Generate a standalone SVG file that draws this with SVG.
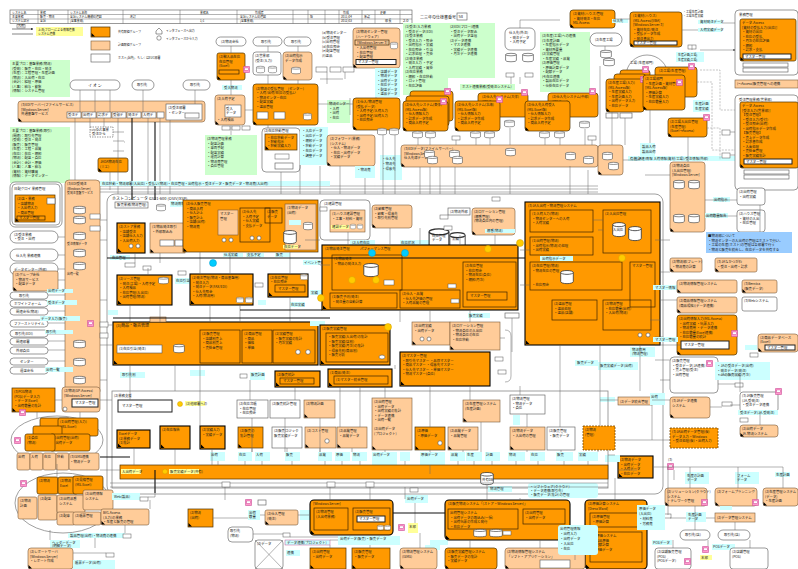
<svg xmlns="http://www.w3.org/2000/svg" width="798" height="569" viewBox="0 0 798 569">
<defs>
<style>
text{font-family:"Noto Sans CJK JP","Noto Sans",sans-serif;font-size:3.4px;fill:#1a1a1a}
.t5{font-size:4.8px}.t4{font-size:4px}.t3{font-size:2.9px}
.o{fill:#ff9900;stroke:#4a3000;stroke-width:.7}
.ok{fill:#ff9900;stroke:#000;stroke-width:1.1}
.od{fill:#ff9900;stroke:#7a4a00;stroke-width:.8;stroke-dasharray:2 1}
.lo{fill:#ffcc99;stroke:#7a5a3a;stroke-width:.6}
.w{fill:#fff;stroke:#555;stroke-width:.6}
.wk{fill:#fff;stroke:#222;stroke-width:1}
.in{fill:none;stroke:#3a2400;stroke-width:.7}
.fr{fill:none;stroke:#888;stroke-width:.8}
.g{fill:#ccffcc}
.c{fill:#ccffff}
.y{fill:#ffff99}
.bl{fill:#99ccff}
.tg{fill:#fff;stroke:#555;stroke-width:.5}
.ln{fill:none;stroke:#666;stroke-width:.5}
.lg{fill:none;stroke:#aaa;stroke-width:.5}
.lk{fill:none;stroke:#111;stroke-width:1.1}
.ld{fill:none;stroke:#888;stroke-width:.5;stroke-dasharray:2 1.2}
.yc{fill:#ffcc00;stroke:#d49a00;stroke-width:.5}
.cc{fill:#00ccff;stroke:#0099cc;stroke-width:.5}
</style>
<symbol id="db" viewBox="0 0 10 8" preserveAspectRatio="none" overflow="visible"><path d="M.5 1.4V6.6A4.5 1.2 0 0 0 9.5 6.6V1.4" fill="#fff" stroke="#333" stroke-width=".5"/><ellipse cx="5" cy="1.4" rx="4.5" ry="1.1" fill="#fff" stroke="#333" stroke-width=".5"/></symbol>
<symbol id="pc" viewBox="0 0 7 7"><rect x=".3" y=".3" width="6.4" height="6.4" rx="1" fill="#ff99cc" stroke="#b03080" stroke-width=".5"/><rect x="1.8" y="2" width="3.4" height="2.2" fill="#fff" stroke="#b03080" stroke-width=".3"/></symbol>
<path id="tri" d="M0 0V-3.5L3.5 0Z" fill="#000"/>
<marker id="ar" viewBox="0 0 6 6" refX="5" refY="3" markerWidth="4" markerHeight="4" orient="auto"><path d="M0 0L6 3L0 6Z" fill="#333"/></marker>
</defs>
<rect width="798" height="569" fill="#fff"/>

<!-- title block -->
<g id="header">
<rect x="10" y="10" width="402" height="13.5" class="w"/>
<path class="ln" d="M10 14.5H412M10 19H412M38 10V23.5M68 10V23.5M123 10V23.5M180 10V23.5M237 10V23.5M293 10V23.5M308 10V23.5M325 10V23.5M339 10V23.5M362 10V23.5M375 10V23.5M400 10V23.5"/>
<text x="12" y="13.5" class="t3">システム名</text><text x="40" y="13.5" class="t3">業務</text><text x="70" y="13.5" class="t3">システム名称</text><text x="200" y="13.5" class="t3">業務名</text><text x="255" y="13.5" class="t3">作成者</text><text x="343" y="13.5" class="t3">作成</text><text x="380" y="13.5" class="t3">更新</text>
<text x="12" y="18" class="t3">主要業務</text><text x="40" y="18" class="t3">販売・物流</text><text x="70" y="18" class="t3">全社システム機能関連図</text><text x="130" y="18" class="t3">改訂</text><text x="240" y="18" class="t3">全社システム関連図</text><text x="310" y="18" class="t3">版</text><text x="341" y="18" class="t3">2011/04</text><text x="364" y="18" class="t3">承認</text>
<text x="12" y="22.3" class="t3">システム区分</text><text x="40" y="22.3" class="t3">全社</text><text x="70" y="22.3" class="t3">(全事業部)</text><text x="200" y="22.3" class="t3">1/1</text><text x="240" y="22.3" class="t3">(全事業部)</text><text x="341" y="22.3" class="t3">2012/03</text><text x="385" y="22.3" class="t3">部 長</text><text x="403" y="22.3" class="t4">2.0</text>
</g>
<g id="docno">
<text x="420" y="19" class="t4">二三年の仕様書番号</text>
<rect x="457" y="13" width="10" height="7" class="w"/><text x="458.5" y="18.4" class="t4">58</text>
</g>

<!-- legend -->
<g id="legend">
<line x1="12" y1="29" x2="33" y2="29" stroke="#333" stroke-width=".6" marker-end="url(#ar)"/>
<rect x="17" y="24.5" width="8" height="3.5" class="tg"/><text x="18" y="27.3" class="t3">凡例</text>
<line x1="12" y1="34" x2="33" y2="34" stroke="#999" stroke-width="1.2"/>
<rect x="36" y="27" width="47" height="9" class="y"/>
<text x="38" y="30.6" class="t3">上流(フロー)による情報連携</text><text x="38" y="34.6" class="t3">システム連携</text>
<rect x="91" y="27" width="19" height="10" class="o"/><use href="#tri" x="91.5" y="36.5"/>
<text x="118" y="33" class="t3">共有取組グループ</text>
<rect x="91" y="41" width="19" height="9" class="lo"/>
<text x="118" y="46" class="t3">計画取組グループ</text>
<rect x="91" y="54" width="19" height="8" class="w"/>
<text x="118" y="59" class="t3">ホスト(社内)、もしくはEUC部署</text>
<path d="M156 31l3-3 3 3v3h-6z" class="w"/><text x="166" y="32" class="t3">インタフェースへ出力</text>
<circle cx="159" cy="38" r="2.2" class="w"/><text x="166" y="39.5" class="t3">インタフェースから入力</text>
</g>

<!-- notes -->
<g id="note1"><rect x="10" y="60" width="60" height="37" class="g"/>
<text x="12" y="65">主要プロ：基盤業務(物流)</text><text x="12" y="69.5">(受発)：販売・在庫・発注</text><text x="12" y="74">(生産)：工程管理・生産計画</text><text x="12" y="78.5">(物流)：入出荷・在庫</text><text x="12" y="83">(会計)：経理・原価</text><text x="12" y="87.5">(人事)：給与・勤怠</text><text x="12" y="92">(情報)：システム管理</text></g>
<g id="note2"><rect x="10" y="127" width="60" height="56" class="g"/>
<text x="12" y="132">主要プロ：基盤業務(取引)</text><text x="12" y="136.5">(関連)：取引先管理</text><text x="12" y="141">(受発)：受注・発注</text><text x="12" y="145.5">(販売)：販売管理</text><text x="12" y="150">(生産)：工程・品質</text><text x="12" y="154.5">(在庫)：在庫・棚卸</text><text x="12" y="159">(物流)：配送・倉庫</text><text x="12" y="163.5">(会計)：会計・原価</text><text x="12" y="168">(人事)：人事・給与</text><text x="12" y="172.5">(資材)：資材購買</text><text x="12" y="177">(情報)：データセンター</text></g>
<g id="note3"><path class="g" d="M403 23H495V78H448V95H403Z"/>
<text x="405" y="28">(1)受注/入力業務</text><text x="405" y="32.5">・受注データ(EDI)</text><text x="405" y="37">(1)受注業務</text><text x="405" y="41.5">・受注入力 ・照会</text><text x="405" y="46">・出荷指示 ・実績</text><text x="405" y="50.5">・在庫照会 ・引当</text><text x="405" y="55">・請求処理 ・売掛</text><text x="405" y="59.5">(2)発注業務</text><text x="405" y="64">・発注入力 ・予定</text><text x="405" y="68.5">・入荷実績 ・買掛</text><text x="405" y="73">(3)在庫業務</text><text x="405" y="77.5">・棚卸 ・在庫移動</text><text x="405" y="82">・ロット管理</text><text x="405" y="86.5">・在庫評価</text>
<text x="450" y="28">(2)EDI(フロー)連携</text><text x="450" y="32.5">・受注データ取込</text><text x="450" y="37">・出荷データ送信</text><text x="450" y="41.5">(3)データ連携</text><text x="450" y="46">・マスタ連携</text><text x="450" y="50.5">・実績データ連携</text><text x="450" y="55">・月次データ連携</text></g>
<g id="note4"><rect x="540" y="32" width="50" height="60" class="g"/>
<text x="542" y="37">(3)生産(工場)への連携</text><text x="542" y="41.5">(1)生産計画</text><text x="542" y="46">・生産指示データ</text><text x="542" y="50.5">・資材所要量</text><text x="542" y="55">(2)実績管理</text><text x="542" y="59.5">・生産実績 ・品質</text><text x="542" y="64">(3)原価管理</text><text x="542" y="68.5">・原価計算データ</text><text x="542" y="73">・配賦データ</text><text x="542" y="77.5">(4)在庫連携</text><text x="542" y="82">・製品在庫データ</text><text x="542" y="86.5">・仕掛在庫データ</text></g>
<g id="note5"><rect x="460" y="84" width="55" height="6" class="g"/><text x="462" y="88.3">ホスト連携業務(受発注システム)</text></g>
<g id="note6"><rect x="327" y="100" width="23" height="23" class="g"/><text x="329" y="105">物流センター</text><text x="329" y="109.5">・入荷</text><text x="329" y="114">・出荷</text><text x="329" y="118.5">・在庫</text></g>
<g id="note7"><rect x="205" y="135" width="52" height="40" class="g"/><text x="207" y="140">(3)物流管理業務</text><text x="207" y="144.5">・配送計画</text><text x="207" y="149">・車両手配</text><text x="207" y="153.5">・配送実績</text><text x="207" y="158">・運賃計算</text><text x="207" y="162.5">・物流費管理</text><text x="207" y="167">・倉庫管理</text></g>

<!-- customer terminals -->
<g id="t-aeon"><rect x="70" y="80" width="50" height="10" rx="5" class="w"/><text x="88" y="86.5" class="t4">イ オ ン</text></g>
<g id="t-cust1"><rect x="132" y="80" width="22" height="10" rx="5" class="w"/><text x="137" y="86.3">取引先</text></g>
<g id="t-cust2"><rect x="183" y="80" width="27" height="10" rx="5" class="w"/><text x="190" y="86.3">取引先</text></g>
<g id="t-logi"><rect x="216" y="37" width="30" height="9" rx="4.5" class="w"/><text x="221" y="42.8">(3)物流会社</text></g>
<g id="t-cust3"><rect x="253" y="37" width="29" height="9" rx="4.5" class="w"/><text x="261" y="42.8">取引先</text></g>
<g id="t-cust4"><rect x="284" y="37" width="27" height="9" rx="4.5" class="w"/><text x="291" y="42.8">取引先</text></g>

<!-- EDI band -->
<g id="edi">
<rect x="18" y="101" width="187" height="21" rx="3" class="lo"/><use href="#tri" x="18.5" y="121.5"/>
<text x="21" y="106">(3)EDIサーバー(ファイルサービス)</text><text x="21" y="110.5">[Windows Server]</text><text x="21" y="115">共通基盤サービス</text>
<rect x="67" y="112" width="14" height="6" class="w"/><text x="68" y="116">受注デ</text>
<rect x="82" y="112" width="14" height="6" class="w"/><text x="83" y="116">出荷デ</text>
<rect x="97" y="112" width="14" height="6" class="w"/><text x="98" y="116">請求デ</text>
<rect x="112" y="112" width="14" height="6" class="w"/><text x="113" y="116">受領デ</text>
<rect x="127" y="112" width="14" height="6" class="w"/><text x="128" y="116">発注デ</text>
<rect x="142" y="112" width="14" height="6" class="w"/><text x="143" y="116">入荷デ</text>
<rect x="157" y="112" width="7" height="6" class="w"/>
<rect x="166" y="104" width="36" height="16" class="w"/><text x="168" y="109">(3)受注部署</text><text x="168" y="113.5">・センター</text><rect x="185" y="113" width="14" height="5" class="w"/>
</g>
<g id="edi-col">
<rect x="65" y="180" width="35" height="215" rx="4" class="lo"/><use href="#tri" x="65.5" y="394.5"/>
<text x="67" y="185">(3)EDI受発注</text><text x="67" y="189.5" class="t3">[Windows Server]</text><text x="67" y="193.5" class="t3">受発注基盤サービス</text>
<use href="#db" x="73" y="206" width="13" height="8"/><use href="#db" x="73" y="216" width="13" height="8"/>
<use href="#db" x="73" y="232" width="13" height="8"/><text x="67" y="245" class="t3">受注情報データ</text>
<use href="#db" x="73" y="249" width="13" height="8"/><use href="#db" x="73" y="262" width="13" height="8"/><text x="67" y="275" class="t3">出荷一覧</text>
<use href="#db" x="73" y="340" width="13" height="8"/><use href="#db" x="73" y="358" width="13" height="8"/><use href="#db" x="73" y="376" width="13" height="8"/>
<use href="#pc" x="87" y="320" width="7" height="7"/>
</g>

<!-- upper left cluster -->
<g id="n-house"><rect x="90" y="127" width="23" height="10" class="w" stroke-dasharray="1.5 1"/><text x="92" y="131">ハウス事業</text><text x="92" y="135">受注から</text></g>
<g id="n-jada"><rect x="98" y="158" width="30" height="14" rx="2" class="o"/><use href="#tri" x="98.5" y="171.5"/><text x="100" y="163">JADA物流在庫</text><text x="100" y="167.5">(ミエ)</text></g>
<g id="n-daily"><rect x="10" y="182" width="52" height="45" rx="5" class="w"/><rect x="12" y="184" width="48" height="41" rx="4" class="fr"/><text x="14" y="190">日配グロイ 業務管理</text>
<rect x="15" y="195" width="40" height="27" class="o"/><use href="#tri" x="15.5" y="221.5"/><text x="17" y="200">(2)店・業務</text><text x="17" y="204.5">・店舗物流</text><text x="17" y="209">・入出荷入力</text><text x="17" y="213.5">・商品管理</text><rect x="17" y="216" width="28" height="4" class="in"/><text x="19" y="219">マスター管理</text>
<rect x="47" y="198" width="8" height="6" class="w"/></g>
<g id="p1"><rect x="10" y="231" width="48" height="12" rx="6" class="w"/><text x="14" y="236">(3)受注業務</text><text x="14" y="240">・受注 ・出荷</text></g>
<g id="p2"><rect x="10" y="249" width="48" height="12" rx="6" class="w"/><text x="16" y="256.5">仕入先 業務連携</text></g>
<g id="p3"><rect x="10" y="263" width="48" height="12" rx="6" class="w"/><text x="14" y="270.5">データセンター(外部)</text></g>
<g id="n-left4"><rect x="13" y="271" width="45" height="20" rx="2" class="lo"/><use href="#tri" x="13.5" y="290.5"/><text x="15" y="276">(3)グループ会社</text><text x="15" y="280.5">・物流サービス</text><text x="15" y="285">・配送データ</text></g>
<g id="pills">
<rect x="10" y="292" width="38" height="7" rx="3.5" class="w"/><text x="19" y="297">取引先</text>
<rect x="10" y="300" width="38" height="7" rx="3.5" class="w"/><text x="14" y="305">ホワイトフォーム</text>
<rect x="10" y="308" width="38" height="7" rx="3.5" class="w"/><text x="16" y="313">関連会社(物流)</text>
<rect x="10" y="320" width="38" height="7" rx="3.5" class="w"/><text x="14" y="325">ファーストリテイル</text>
<rect x="10" y="330" width="38" height="7" rx="3.5" class="w"/><text x="15" y="335">取引先(EDI)</text>
<rect x="10" y="338" width="38" height="7" rx="3.5" class="w"/><text x="16" y="343">関連部署</text>
<rect x="10" y="347" width="38" height="7" rx="3.5" class="w"/><text x="16" y="352">外部倉庫</text>
<rect x="10" y="358" width="38" height="7" rx="3.5" class="w"/><text x="20" y="363">センター</text>
<rect x="10" y="367" width="38" height="7" rx="3.5" class="w"/><text x="20" y="372">運送会社</text>
</g>

<!-- upper middle cluster -->
<g id="n-imp"><rect x="217" y="53" width="28" height="27" rx="2" class="o"/><use href="#tri" x="217.5" y="79.5"/><text x="219" y="58">(3)輸入品在庫</text><text x="219" y="62.5">在庫管理</text><text x="219" y="67">(Excel)</text><rect x="219" y="70" width="20" height="4" class="in"/><use href="#pc" x="243" y="66" width="7" height="7"/></g>
<g id="n-sales"><rect x="253" y="52" width="28" height="23" rx="3" class="w"/><text x="255" y="57">(3)営業部</text><text x="255" y="61.5">(受注/入力)</text><use href="#db" x="256" y="66" width="9" height="7"/><use href="#db" x="268" y="66" width="9" height="7"/></g>
<g id="n-ship"><rect x="283" y="52" width="29" height="28" rx="3" class="lo"/><use href="#tri" x="283.5" y="79.5"/><text x="285" y="57">(3)出荷指示</text><text x="285" y="61.5">データ作成</text><use href="#db" x="291" y="67" width="10" height="7"/></g>
<g id="n-spec"><text x="322" y="34">(a)物流センター</text><text x="322" y="38.5">(b)受注管理</text><text x="322" y="43">(c)出荷管理</text><text x="322" y="47.5">(d)在庫照会</text><text x="322" y="52">(e)配送管理</text><text x="322" y="56.5">(f)返品</text>
<rect x="316" y="67" width="11" height="5" class="tg"/><rect x="330" y="67" width="11" height="5" class="tg"/><rect x="343" y="67" width="11" height="5" class="tg"/></g>
<g id="n-center"><rect x="353" y="28" width="47" height="40" rx="3" class="lo"/><use href="#tri" x="353.5" y="67.5"/>
<text x="356" y="33">(3)物流センター管理</text><text x="356" y="37.5">(ハードウェア)</text><rect x="355" y="40" width="34" height="5" class="in"/><text x="357" y="43.6">[Windows Server 3]</text><text x="356" y="49">・入出荷管理</text><text x="356" y="53.5">・在庫管理</text><text x="356" y="58">・配送管理</text><rect x="356" y="59.5" width="40" height="5" class="wk"/><text x="358" y="63.3">マスター管理</text><use href="#db" x="390" y="42" width="8" height="7"/></g>
<g id="lbl-a"><rect x="375" y="68" width="25" height="29" class="c"/><text x="377" y="72.5">・店舗データ</text><text x="377" y="77">・物流データ</text><text x="377" y="81.5">・出荷データ</text><text x="377" y="86">・在庫データ</text><text x="377" y="90.5">・配送データ</text><text x="377" y="95">・返品データ</text></g>
<g id="n-recv"><rect x="222" y="85" width="20" height="5" class="c"/><text x="224" y="88.8">受入物流</text>
<rect x="215" y="95" width="30" height="30" rx="3" class="lo"/><use href="#tri" x="215.5" y="124.5"/><text x="217" y="100">(3)入荷予定</text><rect x="225" y="105" width="16" height="12" class="w"/><text x="226" y="110">受入</text><text x="226" y="114">データ</text><text x="217" y="121">・入荷検品</text></g>
<g id="n-logi"><rect x="253" y="84" width="65" height="41" rx="3" class="o"/><use href="#tri" x="253.5" y="124.5"/>
<text x="256" y="89.5">(3)物流の受払管理</text><text x="288" y="89.5">(センター)</text><text x="256" y="94">・入荷/出荷/在庫の受払い</text><text x="256" y="98.5">・物流センター在庫</text><text x="256" y="103">・配送実績</text><text x="256" y="107.5">・返品管理</text>
<rect x="257" y="112" width="11" height="7" class="w"/><rect x="274" y="112" width="11" height="7" class="w"/><use href="#db" x="303" y="113" width="9" height="7"/></g>
<g id="n-stock"><rect x="353" y="98" width="47" height="32" rx="3" class="o"/><use href="#tri" x="353.5" y="129.5"/>
<text x="356" y="103">(1)仕入/物流管理</text><text x="356" y="107.5">(受払データ)</text><text x="356" y="112">・入荷予定/入荷入力</text><text x="356" y="116.5">・出荷予定/出荷入力</text><text x="356" y="121">・在庫照会</text><use href="#db" x="377" y="128" width="10" height="7"/><use href="#db" x="389" y="128" width="10" height="7"/></g>
<g id="n-tags1"><rect x="222" y="126" width="8" height="4" class="tg"/><rect x="232" y="126" width="8" height="4" class="tg"/><rect x="242" y="126" width="8" height="4" class="tg"/></g>
<g id="n-move"><rect x="262" y="128" width="38" height="44" rx="4" class="w"/><text x="264" y="132">(3)在庫移動管理</text>
<rect x="265" y="134" width="32" height="16" class="o"/><use href="#tri" x="265.5" y="149.5"/><text x="267" y="138.5">・在庫移動データ</text><text x="267" y="142.5">・移動指示</text><text x="267" y="146.5">・移動実績入力</text>
<rect x="275" y="154" width="14" height="5" class="tg"/><rect x="275" y="163" width="18" height="6" class="w"/></g>
<g id="lbl-b"><rect x="300" y="127" width="28" height="38" class="c"/><text x="302" y="132">・入庫データ</text><text x="302" y="137">・出庫データ</text><text x="302" y="142">・棚卸データ</text><text x="302" y="147">・移動データ</text><text x="302" y="152">・在庫データ</text><text x="302" y="157">・調整データ</text></g>
<g id="n-fwd"><rect x="327" y="135" width="48" height="31" rx="3" class="lo"/><use href="#tri" x="327.5" y="165.5"/><text x="330" y="140">(3)フォワード(業務)</text><text x="330" y="144.5">(システム)</text><text x="330" y="149">・仕入・物流データ</text><text x="330" y="153.5">・在庫・出荷データ</text><text x="330" y="158">・実績データ</text></g>
<g id="lbl-c"><rect x="355" y="166" width="20" height="12" class="c"/><text x="357" y="171">・物流費</text><rect x="380" y="155" width="22" height="25" class="c"/><text x="382" y="160">・仕入先</text><text x="382" y="165">・物流先</text><text x="382" y="170">・得意先</text></g>

<!-- supplier side -->
<g id="n-sup1">
<rect x="410" y="91" width="43" height="30" rx="3" class="o"/><rect x="406" y="96" width="43" height="30" rx="3" class="o"/>
<rect x="403" y="101" width="45" height="30" rx="3" class="o"/><use href="#tri" x="403.5" y="130.5"/>
<text x="405" y="106">(3)仕入先システム(東洋)</text><text x="405" y="110.5">(MS-Access版)</text><text x="405" y="115">・仕入情報入力</text><text x="405" y="119.5">・請求データ作成</text><text x="405" y="124">・商品入荷予定</text>
<use href="#pc" x="444" y="88" width="7" height="7"/><use href="#pc" x="440" y="98" width="7" height="7"/>
<use href="#db" x="412" y="131" width="11" height="7"/><use href="#db" x="425" y="131" width="11" height="7"/></g>
<g id="n-sup2">
<rect x="478" y="93" width="50" height="24" rx="3" class="o"/><text x="482" y="98">(3)仕入先システム(大洋)</text><text x="482" y="102.5">(MS-Excel)</text>
<rect x="455" y="101" width="45" height="30" rx="3" class="o"/><use href="#tri" x="455.5" y="130.5"/>
<text x="457" y="106">(2)仕入先システム(北海)</text><text x="457" y="110.5">(MS-Excel版)</text><text x="457" y="115">・仕入情報入力</text><text x="457" y="119.5">・請求データ作成</text><text x="457" y="124">・商品入荷予定</text>
<use href="#pc" x="521" y="89" width="7" height="7"/><use href="#pc" x="496" y="96" width="7" height="7"/>
<use href="#db" x="470" y="131" width="11" height="7"/><use href="#db" x="484" y="131" width="11" height="7"/><use href="#db" x="504" y="120" width="11" height="7"/></g>
<g id="n-sup3">
<rect x="548" y="93" width="50" height="24" rx="3" class="o"/><text x="552" y="98">(3)仕入先システム(中部)</text><text x="552" y="102.5">(MS-Excel)</text>
<rect x="525" y="101" width="45" height="30" rx="3" class="o"/><use href="#tri" x="525.5" y="130.5"/>
<text x="527" y="106">(3)仕入先入荷受入</text><text x="527" y="110.5">(MS-Excel版)</text><text x="527" y="115">・仕入情報入力</text><text x="527" y="119.5">・請求データ作成</text><text x="527" y="124">・商品入荷予定</text>
<use href="#pc" x="589" y="88" width="7" height="7"/>
<use href="#db" x="539" y="131" width="11" height="7"/><use href="#db" x="554" y="131" width="11" height="7"/><use href="#db" x="579" y="121" width="11" height="7"/></g>
<g id="n-ord"><rect x="505" y="28" width="30" height="22" rx="5" class="w"/><text x="509" y="34">仕入先(外注)</text><text x="509" y="38.5">・発注データ</text><text x="509" y="43">・入荷予定</text>
<use href="#db" x="505" y="53" width="12" height="9"/><use href="#db" x="522" y="53" width="12" height="9"/><rect x="506" y="73" width="8" height="4" class="tg"/><rect x="525" y="73" width="8" height="4" class="tg"/></g>
<g id="edi2"><rect x="401" y="145" width="197" height="22" rx="3" class="lo"/><use href="#tri" x="401.5" y="166.5"/>
<text x="404" y="150">(3)EDIデータ(ファイルサーバー)</text><text x="404" y="154.5">[Windows Server]</text><text x="404" y="159">仕入先様データ</text>
<use href="#db" x="424" y="150" width="11" height="8"/><use href="#db" x="427" y="156" width="11" height="8"/><use href="#db" x="449" y="150" width="11" height="8"/><use href="#db" x="452" y="156" width="11" height="8"/><use href="#db" x="505" y="148" width="11" height="8"/><use href="#db" x="565" y="152" width="11" height="8"/><use href="#db" x="583" y="156" width="11" height="8"/>
<rect x="452" y="136" width="8" height="4" class="tg"/><rect x="588" y="136" width="8" height="4" class="tg"/></g>

<!-- top right -->
<g id="n-mat"><rect x="570" y="10" width="45" height="18" rx="3" class="o"/><use href="#tri" x="570.5" y="27.5"/><text x="573" y="15">(3)資材(ハウス)管理</text><text x="573" y="19.5">・資材発注・在庫</text><text x="573" y="24">MS-Access</text></g>
<g id="n-mat2"><rect x="630" y="12" width="52" height="35" rx="3" class="o"/><use href="#tri" x="630.5" y="46.5"/>
<text x="633" y="17">(1)資材(ハウス)</text><text x="633" y="21.5">(MS-Access)[VBA]</text><text x="633" y="26">[Windows Server 3]</text><text x="633" y="30.5">・資材在庫/発注</text><text x="633" y="35">・受払データ作成</text><text x="633" y="39.5">・発注書出力</text>
<rect x="634" y="41" width="43" height="4" class="wk"/><text x="636" y="44.2">マスター管理</text></g>
<g id="lbl-d"><rect x="612" y="19" width="16" height="4" class="c"/><text x="613" y="22">仕入先</text>
<text x="683" y="13" class="t3">・工場生産計画</text><text x="683" y="17" class="t3">・工場生産実績</text>
<rect x="698" y="20" width="24" height="4" class="c"/><text x="700" y="23">資材発注データ</text><rect x="698" y="28" width="24" height="4" class="c"/><text x="700" y="31">入荷実績データ</text>
<rect x="688" y="45" width="8" height="4" class="tg"/></g>
<g id="n-acc1"><rect x="735" y="10" width="63" height="65" rx="4" class="w"/><text x="739" y="15.5">業務管理</text>
<rect x="740" y="19" width="56" height="42" rx="2" class="o"/><use href="#tri" x="740.5" y="60.5"/>
<text x="742" y="24">データ-Access</text><text x="742" y="28.5">[資材の受払入力(出庫)]</text><text x="742" y="33">・資材の出庫</text><text x="742" y="37.5">・在庫の受払</text><text x="742" y="42">・月次の在庫評価</text><text x="742" y="46.5">・棚卸</text><text x="742" y="51">・請求・支払</text><rect x="743" y="54" width="48" height="5" class="wk"/><text x="745" y="57.8">マスター管理</text>
<rect x="743" y="63" width="45" height="4" class="w"/><rect x="743" y="68" width="45" height="4" class="w"/></g>
<g id="n-fact"><rect x="590" y="33" width="32" height="13" rx="6.5" class="w"/><text x="595" y="41">(3)生産工場</text>
<use href="#db" x="600" y="50" width="12" height="8"/><use href="#db" x="603" y="58" width="12" height="8"/>
<path d="M626 76A21 21 0 0 1 668 76" class="fr"/><text x="630" y="64">工場 (生産部門)</text></g>
<g id="n-prod1">
<rect x="620" y="70" width="30" height="33" rx="3" class="o"/><rect x="614" y="74" width="32" height="33" rx="3" class="o"/>
<rect x="606" y="79" width="38" height="33" rx="3" class="o"/><use href="#tri" x="606.5" y="111.5"/>
<text x="608" y="84">(3)生産工場(入力)</text><text x="608" y="88.5">(MS-Access版)</text><text x="608" y="93">・生産実績入力</text><text x="608" y="97.5">・生産計画入力</text><text x="608" y="102">・出荷データ入力</text><text x="608" y="106.5">・在庫データ</text>
<use href="#pc" x="642" y="66" width="7" height="7"/><use href="#pc" x="640" y="76" width="7" height="7"/>
<rect x="606" y="113" width="12" height="5" class="w"/><rect x="620" y="113" width="12" height="5" class="w"/></g>
<g id="n-prod2">
<rect x="655" y="67" width="42" height="30" rx="3" class="o"/><text x="659" y="72">(3)工場(生産管理)</text>
<rect x="643" y="75" width="42" height="35" rx="3" class="o"/><use href="#tri" x="643.5" y="109.5"/>
<text x="645" y="80">(3)工場部門</text><text x="645" y="84.5">・生産計画・資材管理</text><text x="645" y="89">[MS-Access版]</text><text x="645" y="93.5">・原価計算</text><text x="645" y="98">・生産実績入力</text><text x="645" y="102.5">・在庫数量入力</text>
<use href="#pc" x="688" y="63" width="7" height="7"/><use href="#pc" x="676" y="79" width="7" height="7"/></g>
<g id="n-prod3"><rect x="668" y="118" width="39" height="19" rx="3" class="o"/><use href="#tri" x="668.5" y="136.5"/><text x="670" y="123">(3)工場入出庫管理</text><text x="670" y="127.5">(生産管理)</text><text x="670" y="132">(Excel→Access)</text><use href="#pc" x="703" y="114" width="7" height="7"/></g>
<g id="lbl-e"><rect x="676" y="52" width="28" height="10" class="c"/><text x="678" y="56" class="t3">生産計画(工場)</text><text x="678" y="60.5" class="t3">生産実績(工場)</text>
<rect x="693" y="100" width="17" height="12" class="c"/><text x="695" y="105">生産計画</text><text x="695" y="110">生産実績</text>
<rect x="640" y="143" width="15" height="14" class="c"/><text x="642" y="148">製品入荷</text><text x="642" y="153">製品出荷</text>
<rect x="628" y="156" width="110" height="5" class="c"/><text x="630" y="159.8">有償(調達)情報 入荷情報(資材/工場)/受注情報(外部)</text>
<rect x="735" y="80" width="63" height="8" class="lo"/><text x="737" y="85">(〜Access)販売管理への連携</text>
<rect x="722" y="130" width="8" height="5" class="tg"/><rect x="722" y="153" width="8" height="5" class="tg"/></g>
<g id="n-acc2"><rect x="735" y="95" width="63" height="95" rx="4" class="w"/><text x="739" y="100.5">受注管理業務(営業部)</text>
<rect x="740" y="102" width="58" height="66" rx="2" class="o"/><use href="#tri" x="740.5" y="167.5"/>
<text x="742" y="107">データ-Access</text><text x="742" y="111.5">[受注入力(営業部)]</text><text x="742" y="116">【受注管理】</text><text x="742" y="120.5">・受注入力(受付)</text><text x="742" y="125">・受注照会(出荷)</text><text x="742" y="129.5">・出荷指示データ作成</text><text x="742" y="134">【販売管理】</text><text x="742" y="138.5">・売上データ作成</text><text x="742" y="143">・請求書作成</text><text x="742" y="147.5">・入金処理</text><text x="742" y="152">・売掛金管理</text><text x="742" y="156.5">・販売実績集計</text>
<rect x="744" y="159" width="48" height="5" class="wk"/><text x="746" y="162.8">マスター管理</text>
<rect x="744" y="170" width="45" height="4" class="w"/><rect x="744" y="175" width="45" height="4" class="w"/></g>
<g id="n-whs"><rect x="670" y="162" width="35" height="70" rx="3" class="lo"/><use href="#tri" x="670.5" y="231.5"/><text x="672" y="167">(3)物流倉庫</text><text x="672" y="171.5">(入出庫管理)</text><text x="672" y="176">[Windows Server]</text>
<use href="#db" x="673" y="180" width="12" height="9"/><use href="#db" x="688" y="180" width="12" height="9"/><use href="#db" x="673" y="214" width="12" height="9"/><use href="#db" x="688" y="214" width="12" height="9"/></g>
<g id="n-whs2"><rect x="598" y="145" width="25" height="30" rx="3" class="lo"/><use href="#tri" x="598.5" y="174.5"/><use href="#db" x="602" y="152" width="11" height="8"/><use href="#db" x="608" y="162" width="11" height="8"/></g>

<!-- host frame -->
<g id="host">
<rect x="107" y="194" width="556" height="300" rx="8" class="fr"/>
<text x="112" y="200" class="t4">ホストコンピュータ GS21-600 (OSIV/XSP)</text>
</g>

<!-- host: left -->
<g id="h-sales"><rect x="115" y="202" width="33" height="6" class="w"/><text x="117" y="206.2">販売業務(物流管理)</text><rect x="170" y="201" width="15" height="6" class="c"/><text x="171" y="205">物流情報</text><use href="#db" x="156" y="204" width="10" height="7"/></g>
<g id="h-store"><rect x="117" y="223" width="28" height="30" class="ok"/><use href="#tri" x="118" y="252"/><text x="119" y="228">(3)ストア業務</text><text x="119" y="232.5">・店舗受注</text><text x="119" y="237">・店舗仕入入力</text><text x="119" y="241.5">・入出荷入力</text><circle cx="131" cy="246" r="2" class="w"/><circle cx="138" cy="246" r="2" class="w"/></g>
<g id="h-obt"><rect x="150" y="223" width="35" height="30" class="lo"/><use href="#tri" x="150.5" y="252.5"/><text x="152" y="228">(1)物品発注取引</text><text x="152" y="232.5">・外部取込み</text><rect x="160" y="240" width="14" height="6" class="w"/><rect x="175" y="240" width="8" height="6" class="w"/></g>
<g id="h-buy"><rect x="183" y="200" width="135" height="52" class="o"/><use href="#tri" x="183.5" y="251.5"/>
<text x="186" y="205">(3)仕入販売管理</text><text x="186" y="209.5">・商品入荷</text><text x="186" y="214">・仕入計上</text><text x="186" y="218.5">・販売計上</text><text x="186" y="223">・店舗(出荷)</text><text x="186" y="227.5">・物流費</text>
<rect x="218" y="210" width="20" height="25" class="lo"/><text x="220" y="215">マスター</text><text x="220" y="219.5">管理</text><circle cx="224" cy="240" r="2" class="w"/><circle cx="231" cy="240" r="2" class="w"/>
<rect x="240" y="208" width="30" height="34" class="in"/><text x="242" y="213">(3)仕入先</text><text x="242" y="217.5">・入荷予定</text><text x="242" y="222">・仕入実績</text><text x="242" y="226.5">・支払データ</text><circle cx="252" cy="238" r="2" class="w"/><circle cx="259" cy="238" r="2" class="w"/>
<rect x="265" y="208" width="17" height="15" class="in"/><text x="267" y="213">(3)販売</text><text x="267" y="217.5">データ</text>
<rect x="285" y="204" width="31" height="46" class="lo"/><text x="287" y="209">(1)物流データ</text><text x="287" y="213.5">(出荷)</text><rect x="289" y="220" width="12" height="5" class="c"/><use href="#db" x="283" y="230" width="14" height="14"/><rect x="283" y="245" width="15" height="3.5" class="y"/><text x="284" y="248">在庫データ</text><use href="#db" x="303" y="222" width="10" height="8"/></g>
<g id="h-lbl1"><rect x="110" y="255" width="20" height="5" class="c"/><text x="112" y="258.8">在庫管理</text>
<rect x="223" y="253" width="20" height="4" class="c"/><text x="224" y="256">仕入実績</text><rect x="246" y="253" width="18" height="4" class="c"/><text x="247" y="256">支払予定</text><rect x="275" y="253" width="15" height="4" class="c"/><text x="276" y="256">販売</text>
<rect x="125" y="263" width="10" height="4" class="tg"/><rect x="143" y="266" width="8" height="4" class="tg"/><rect x="178" y="271" width="8" height="4" class="tg"/><rect x="175" y="278" width="15" height="6" class="c"/><text x="176" y="282">在庫引当</text></g>
<g id="h-src"><rect x="117" y="275" width="55" height="30" class="ok"/><use href="#tri" x="118" y="304"/><text x="119" y="280">(3)ソース管理</text><text x="119" y="284.5">・発注(工場)・入荷予定</text><text x="119" y="289">・入荷検品</text><text x="119" y="293.5">・在庫管理(入出庫)</text><text x="119" y="298">・出荷管理(物流)</text><use href="#db" x="158" y="277" width="11" height="7"/></g>
<g id="h-ord"><rect x="190" y="274" width="63" height="31" class="ok"/><use href="#tri" x="191" y="304"/><text x="192" y="279">(2)発注管理(物流・商品基盤用)</text><text x="192" y="283.5">・発注入力</text><text x="192" y="288">・発注データ(FAX/EDI)</text><text x="192" y="292.5">・仕入先照会</text><text x="192" y="297">・入荷(物流用)</text><use href="#db" x="236" y="297" width="8" height="6"/><use href="#db" x="245" y="297" width="8" height="6"/></g>
<g id="h-inv"><rect x="268" y="274" width="40" height="23" class="ok"/><use href="#tri" x="269" y="296"/><text x="270" y="279">(3)在庫管理</text><text x="270" y="283">・在庫照会</text><rect x="275" y="285" width="30" height="7" class="in"/><text x="278" y="289.8">マスター管理</text><use href="#db" x="300" y="274" width="8" height="6"/></g>
<g id="h-lbl2"><rect x="108" y="310" width="10" height="5" class="c"/><rect x="258" y="300" width="8" height="5" class="c"/><rect x="290" y="302" width="15" height="5" class="c"/><text x="291" y="305.8">在庫実績</text><rect x="303" y="260" width="17" height="5" class="c"/><text x="304" y="263.8">イベント管理</text><rect x="310" y="290" width="12" height="5" class="c"/><text x="311" y="293.8">実績</text><rect x="255" y="283" width="8" height="4" class="tg"/></g>
<g id="h-goods"><rect x="113" y="322" width="205" height="43" class="ok"/><use href="#tri" x="114" y="364"/>
<text x="116" y="327" class="t4">(3)商品・販売管理</text><rect x="150" y="317" width="16" height="5" class="lo"/>
<rect x="117" y="345" width="45" height="8" class="w"/><text x="119" y="350.3">(1)在庫引当(発注)</text><use href="#db" x="173" y="344" width="12" height="9"/>
<rect x="200" y="330" width="40" height="33" class="in"/><text x="202" y="335">(2)販売管理</text><text x="202" y="339.5">・店舗別売上</text><text x="202" y="344">・商品別売上</text><text x="202" y="348.5">・売掛金管理</text>
<rect x="242" y="330" width="30" height="33" class="in"/><text x="244" y="335">(2)商品管理</text><text x="244" y="339.5">・商品</text><text x="244" y="344">・価格</text><text x="244" y="348.5">・単価</text>
<rect x="273" y="330" width="42" height="33" class="in"/><text x="275" y="335">(2)実績管理</text><text x="275" y="339.5">・販売実績の集計</text><text x="275" y="344">・月次実績</text><circle cx="298" cy="352" r="2.3" class="w"/><circle cx="308" cy="352" r="2.3" class="w"/></g>
<g id="h-lbl3"><rect x="120" y="372" width="25" height="6" class="c"/><text x="122" y="376">取引先別</text><rect x="190" y="370" width="15" height="6" class="c"/><rect x="250" y="372" width="15" height="8" class="c"/><text x="251" y="376">販売計画</text><rect x="240" y="374" width="7" height="4" class="tg"/></g>
<g id="h-mst"><rect x="275" y="371" width="45" height="16" class="ok"/><use href="#tri" x="276" y="386"/><text x="277" y="376">(3)販売統計</text><rect x="280" y="378" width="34" height="6" class="in"/><text x="283" y="382.3">マスター管理</text></g>

<!-- host: centre -->
<g id="h-build"><rect x="320" y="200" width="50" height="40" rx="4" class="w"/><text x="324" y="205">(3)建設管理</text><rect x="330" y="210" width="35" height="22" class="lo"/><text x="332" y="215">(1)ハウス建設管理</text><text x="332" y="219.5">・工事・材料・資材</text><rect x="331" y="225" width="18" height="4" class="y"/><text x="332" y="228">建設データ</text><use href="#db" x="350" y="224" width="6" height="5"/><use href="#db" x="357" y="224" width="6" height="5"/><rect x="320" y="207" width="7" height="4" class="tg"/></g>
<g id="h-cust"><rect x="372" y="205" width="40" height="23" rx="3" class="lo"/><use href="#tri" x="372.5" y="227.5"/><text x="374" y="210">(3)顧客管理</text><text x="374" y="214.5">・顧客・得意先</text><text x="374" y="219">・取引先別管理</text></g>
<g id="h-loc"><rect x="448" y="208" width="22" height="7" class="w"/><text x="450" y="212.5">(3)物流外部</text>
<rect x="472" y="208" width="43" height="27" rx="3" class="lo"/><use href="#tri" x="472.5" y="234.5"/><text x="474" y="213">(3)ロケーション管理</text><text x="474" y="217.5">(棚番管理)</text><text x="474" y="222">(物流倉庫内の管理)</text><rect x="485" y="229" width="30" height="4" class="c"/><text x="487" y="232">棚番(物流)</text><rect x="492" y="197" width="8" height="4" class="tg"/></g>
<g id="h-lbl4"><rect x="350" y="240" width="25" height="5" class="c"/><text x="352" y="243.8">(2)入荷在庫</text><rect x="400" y="240" width="30" height="5" class="c"/><text x="401" y="243.8">在庫状況</text></g>
<g id="h-db"><use href="#db" x="428" y="228" width="22" height="22"/><text x="432" y="237">在庫管理</text><text x="432" y="241">データ</text><use href="#db" x="449" y="232" width="17" height="18"/><text x="452" y="240">実績</text></g>
<g id="h-buyord">
<rect x="322" y="245" width="196" height="65" class="ok"/><use href="#tri" x="323" y="309"/>
<text x="325" y="250">(3)物品発注管理</text><text x="360" y="250">パフォーマンス管理</text>
<rect x="332" y="255" width="70" height="35" class="in"/><text x="334" y="260">(1)物品発注</text><text x="334" y="264.5">・物品の発注入力</text><use href="#db" x="363" y="263" width="16" height="14"/><rect x="384" y="280" width="10" height="5" class="tg"/>
<rect x="330" y="293" width="67" height="15" class="in"/><text x="332" y="298">(1)販売予測(発注)</text><text x="332" y="302.5">・発注量の自動計算</text>
<rect x="400" y="290" width="60" height="18" class="in"/><text x="402" y="295">(3)仕入・品質</text><text x="402" y="299.5">・仕入先評価の管理</text><text x="402" y="304">・入荷品質の管理</text>
<rect x="463" y="262" width="53" height="45" class="in"/><text x="465" y="267">(3)在庫管理</text><text x="465" y="271.5">・在庫照会</text><text x="465" y="276">・物流在庫(倉庫)</text><text x="465" y="280.5">・棚卸(月次)</text><rect x="467" y="292" width="40" height="8" class="in"/><text x="470" y="297">マスター管理</text>
<rect x="440" y="215" width="8" height="4" class="tg"/><rect x="444" y="226" width="8" height="4" class="tg"/><rect x="448" y="284" width="8" height="4" class="tg"/><rect x="451" y="299" width="8" height="4" class="tg"/>
<circle cx="352" cy="280" r="3.5" class="yc"/><circle cx="376" cy="280" r="3.5" class="yc"/><circle cx="488" cy="249" r="3.5" class="yc"/><circle cx="520" cy="243" r="3.5" class="yc"/><circle cx="321" cy="298" r="3.5" class="yc"/>
<circle cx="213" cy="263" r="3.5" class="cc"/><circle cx="372" cy="253" r="3.5" class="cc"/><circle cx="405" cy="253" r="3.5" class="cc"/></g>
<g id="h-perf"><rect x="310" y="321" width="15" height="5" class="c"/><rect x="320" y="325" width="70" height="40" class="ok"/><use href="#tri" x="321" y="364"/><text x="322" y="330">(3)販売実績管理</text>
<rect x="326" y="333" width="62" height="29" class="in"/><text x="328" y="338">・販売実績(入出荷)の集計</text><text x="328" y="342.5">・販売実績(店別)</text><text x="328" y="347">・販売実績(月次)の集計</text><text x="328" y="351.5">・得意先別(商品別)</text><text x="328" y="356">・販売分析</text><ellipse cx="382" cy="357" rx="3" ry="2" class="w"/><circle cx="388" cy="327" r="3.5" class="yc"/></g>
<g id="h-shipres"><rect x="468" y="313" width="22" height="5" class="c"/><text x="469" y="316.8">販売実績</text><rect x="505" y="313" width="14" height="5" class="w"/>
<rect x="412" y="322" width="38" height="23" class="lo"/><use href="#tri" x="412.5" y="344.5"/><text x="414" y="327">(3)出荷実績</text><text x="414" y="331.5">・出荷データ</text><circle cx="422" cy="339" r="2" class="w"/><circle cx="429" cy="339" r="2" class="w"/>
<rect x="450" y="322" width="50" height="28" class="lo"/><use href="#tri" x="450.5" y="349.5"/><text x="452" y="327">(3)ロケーション管理</text><text x="452" y="331.5">・物流倉庫の入出庫</text><text x="452" y="336">・物流倉庫の在庫</text><text x="452" y="340.5">・在庫移動</text></g>
<g id="h-master"><rect x="400" y="352" width="90" height="34" class="ok"/><use href="#tri" x="401" y="385"/>
<text x="402" y="357">(3)マスター管理</text><text x="402" y="361.5">・取引先マスター ・品目マスター</text><text x="402" y="366">・商品マスター ・得意先マスター</text><text x="402" y="370.5">・仕入先マスター ・単価マスター</text><text x="402" y="375">・物流マスター(倉庫)</text>
<rect x="495" y="357" width="8" height="4" class="tg"/><rect x="498" y="370" width="8" height="4" class="tg"/><rect x="575" y="360" width="23" height="6" class="c"/><text x="577" y="364">販売データ</text></g>
<g id="h-master2"><rect x="328" y="369" width="64" height="18" class="ok"/><use href="#tri" x="329" y="386"/><text x="330" y="374">(1)商品(発注)</text><rect x="334" y="376" width="54" height="8" class="in"/><text x="336" y="381.3">(1)マスター統合管理</text></g>

<!-- host: right -->
<g id="h-bigr"><rect x="525" y="202" width="135" height="143" class="ok"/><use href="#tri" x="526" y="344"/>
<text x="528" y="207">(3)JA入出荷・物流管理システム</text>
<rect x="530" y="210" width="63" height="22" class="in"/><text x="532" y="215">(1)入荷入力(物流)</text><text x="532" y="219.5">・物流センターへの入荷</text><text x="532" y="224">・入荷実績</text>
<rect x="530" y="237" width="63" height="18" class="in"/><text x="532" y="242">(1)出荷管理(物流)</text><text x="532" y="246.5">・出荷指示(物流)の処理</text><text x="532" y="251">・出荷実績</text>
<rect x="540" y="256" width="33" height="5" class="c"/><text x="542" y="259.8">出荷指示データ</text>
<rect x="530" y="262" width="92" height="28" class="in"/><text x="532" y="267">(3)在庫管理(物流)</text><text x="532" y="271.5">・物流在庫の管理</text><use href="#db" x="560" y="270" width="14" height="14"/><text x="532" y="286">・在庫照会</text>
<rect x="552" y="300" width="45" height="20" class="in"/><text x="554" y="305">(3)返品管理</text><text x="554" y="309.5">・返品処理</text><text x="554" y="314">・返品(店舗)</text>
<rect x="603" y="210" width="48" height="43" class="in"/><text x="605" y="215">(2)入出庫管理</text><use href="#db" x="612" y="222" width="14" height="15"/><use href="#db" x="628" y="226" width="14" height="15"/><text x="613" y="231">入出庫</text>
<circle cx="622" cy="258" r="3.5" class="yc"/>
<rect x="630" y="262" width="25" height="45" class="in"/><text x="632" y="267">マスター管理</text>
<rect x="603" y="300" width="48" height="30" class="in"/><text x="605" y="305">(3)物流管理</text><text x="605" y="309.5">・在庫数量(出荷)</text><text x="605" y="314">・入出荷(物流)</text><circle cx="640" cy="335" r="2" class="w"/><circle cx="648" cy="335" r="2" class="w"/></g>
<g id="h-lbl5"><rect x="653" y="285" width="25" height="5" class="c"/><text x="655" y="288.8">マスター情報</text><rect x="655" y="337" width="8" height="4" class="tg"/><rect x="630" y="347" width="25" height="10" class="c"/><text x="632" y="351">物流費用</text><text x="632" y="355">(物流管理)</text><rect x="598" y="362" width="40" height="8" class="c"/><text x="600" y="367">販売実績データ(出荷)</text></g>
<path d="M505 330q6 0 6 6v40q0 6-6 6" class="ln"/>

<!-- right side -->
<g id="r-1"><rect x="737" y="188" width="28" height="17" rx="3" class="w"/><text x="739" y="193">(3)出荷管理</text><text x="739" y="197.5">・出荷実績</text>
<rect x="737" y="210" width="28" height="22" rx="3" class="w"/><text x="739" y="215">(3)ハウス管理</text><text x="739" y="219.5">・資材の入出</text><text x="739" y="224">・在庫管理</text>
<rect x="713" y="197" width="17" height="5" class="c"/><text x="714" y="200.8">出荷指示</text><rect x="705" y="213" width="23" height="5" class="c"/><text x="706" y="216.8">出荷数量報告</text></g>
<g id="r-note"><rect x="706" y="232" width="86" height="21" class="bl"/><text x="708" y="237">■物流部について</text><text x="708" y="241.5">・物流センターの入出荷の管理はホストで行い、</text><text x="708" y="246">・工場の生産(ホスト)の管理は各部署で行う</text><text x="708" y="250.5">・物流と販売を統合し、在庫データを共有する</text></g>
<g id="r-2"><rect x="670" y="258" width="32" height="14" rx="2" class="lo"/><use href="#tri" x="670.5" y="271.5"/><text x="672" y="263">(3)物流部(フレート)</text><text x="672" y="267.5">・物流費の計算</text>
<rect x="715" y="258" width="42" height="14" rx="2" class="lo"/><use href="#tri" x="715.5" y="271.5"/><text x="717" y="263">(3)JAなかつがわ</text><text x="717" y="267.5">・受注・出荷・請求</text>
<rect x="677" y="280" width="60" height="13" rx="2" class="lo"/><use href="#tri" x="677.5" y="292.5"/><text x="679" y="285">(3)物流情報管理システム</text>
<rect x="742" y="280" width="35" height="13" rx="2" class="lo"/><use href="#tri" x="742.5" y="292.5"/><text x="744" y="285">(3)Bernica</text><text x="744" y="289.5">(販売データ)</text>
<rect x="677" y="297" width="60" height="16" rx="2" class="lo"/><use href="#tri" x="677.5" y="312.5"/><text x="679" y="302">(3)商品情報管理システム</text><text x="679" y="306.5">(商品規格)(データ連携)</text>
<rect x="742" y="297" width="35" height="14" rx="2" class="w"/><text x="744" y="302">(3)Webシステム</text></g>
<g id="r-3"><rect x="677" y="315" width="60" height="40" rx="3" class="o"/><use href="#tri" x="677.5" y="354.5"/><text x="679" y="320">(3)出荷情報入力(MS-Access)</text><text x="679" y="324.5">・出荷実績 ・伝票入力</text><text x="679" y="329">・物流費用 ・データ連携</text><text x="679" y="333.5">・在庫数量(Excel連携)</text><text x="679" y="338">・在庫数量の統計</text>
<rect x="681" y="341" width="48" height="8" class="wk"/><text x="684" y="346.3">マスター管理</text><use href="#pc" x="731" y="330" width="7" height="7"/>
<rect x="653" y="337" width="25" height="5" class="c"/><text x="655" y="340.8">マスター管理</text></g>
<g id="r-4"><rect x="758" y="334" width="40" height="18" rx="3" class="lo"/><use href="#tri" x="758.5" y="351.5"/><text x="760" y="339">(3)商品データベース</text><text x="760" y="343">(Excel)</text><rect x="765" y="345" width="30" height="5" class="wk"/><text x="767" y="348.8">マスター管理</text>
<rect x="745" y="345" width="12" height="5" class="c"/><rect x="750" y="353" width="8" height="4" class="tg"/></g>
<g id="r-5"><rect x="670" y="357" width="48" height="36" rx="4" class="w"/><text x="672" y="362">(3)販売管理</text><text x="672" y="366.5">・受注データ(JA連携)</text><text x="672" y="371">・売上管理(受注)</text><text x="672" y="375.5">・出荷管理</text><use href="#pc" x="706" y="360" width="7" height="7"/>
<rect x="715" y="362" width="55" height="18" class="c"/><text x="717" y="367">・JAの受注データ(出荷)</text><text x="717" y="371.5">・発注データ(発注)</text><text x="717" y="376">・JAの販売実績(月次)</text></g>
<g id="r-6"><rect x="600" y="397" width="15" height="5" class="c"/><rect x="618" y="397" width="34" height="8" class="lo" stroke="#222"/><text x="620" y="402.5">(3)データ統合管理</text><rect x="650" y="393" width="15" height="12" class="c"/><text x="651" y="398">出荷</text>
<rect x="670" y="397" width="40" height="21" rx="3" class="lo"/><use href="#tri" x="670.5" y="417.5"/><text x="672" y="402">(3)JAデータ連携</text><text x="672" y="406.5">システム</text></g>
<g id="r-7"><rect x="740" y="392" width="38" height="20" rx="3" class="w"/><text x="742" y="397">(3)JA販売管理</text><text x="742" y="401.5">(JA-受発注)</text><text x="742" y="406">・受注データ連携</text><use href="#pc" x="775" y="388" width="7" height="7"/>
<rect x="738" y="410" width="40" height="5" class="c"/><text x="740" y="413.8">受注データ(JA-受発注)</text>
<rect x="722" y="402" width="10" height="4" class="tg"/><rect x="735" y="383" width="8" height="4" class="tg"/><rect x="740" y="418" width="8" height="4" class="tg"/>
<rect x="740" y="425" width="38" height="12" rx="3" class="lo"/><use href="#tri" x="740.5" y="436.5"/><text x="742" y="430">(3)出荷データ</text><text x="742" y="434.5">JA-物流システム</text></g>
<g id="r-8"><rect x="670" y="428" width="48" height="20" class="od"/><text x="672" y="433">(3)JA出荷データ管理(仮)</text><text x="672" y="437.5">データ入力・Windows</text><text x="672" y="442">・受注処理(仮)・出荷入力</text></g>
<g id="r-9"><rect x="618" y="456" width="35" height="22" class="ok"/><use href="#tri" x="619" y="477"/><text x="620" y="461">(3)物流データ</text><text x="620" y="465.5">・出荷データ</text><text x="620" y="470">・入荷データ</text><text x="620" y="474.5">・在庫データ</text>
<rect x="605" y="455" width="15" height="7" class="c"/><use href="#pc" x="667" y="463" width="7" height="7"/><text x="668" y="461">(3)</text></g>
<g id="r-10">
<rect x="665" y="488" width="42" height="18" rx="3" class="lo"/><use href="#tri" x="665.5" y="505.5"/><text x="667" y="493">(3)ソリューション(クラウド)</text><text x="667" y="497.5">システム</text><text x="667" y="502">・テレワーク管理</text><use href="#pc" x="701" y="499" width="7" height="7"/>
<rect x="715" y="488" width="42" height="18" rx="3" class="lo"/><use href="#tri" x="715.5" y="505.5"/><text x="717" y="493">(3)フォームプランニング</text><use href="#pc" x="752" y="499" width="7" height="7"/>
<rect x="763" y="488" width="35" height="18" rx="3" class="lo"/><use href="#tri" x="763.5" y="505.5"/><text x="765" y="493">(3)生産管理システム</text><text x="765" y="497.5">(データ)</text><text x="765" y="502">・生産計画</text>
<rect x="685" y="472" width="24" height="12" class="c"/><text x="687" y="476.5">生産の計画</text><text x="687" y="481">データ</text><rect x="735" y="472" width="24" height="12" class="c"/><text x="737" y="476.5">フォーム</text><text x="737" y="481">データ</text><rect x="775" y="472" width="15" height="5" class="c"/><text x="776" y="475.8">生産計画</text>
<rect x="720" y="506" width="12" height="4" class="c"/><rect x="715" y="513" width="40" height="9" class="lo" stroke="#222"/><text x="717" y="518.5">(3)データ管理システム</text>
<rect x="686" y="512" width="20" height="10" class="c"/><text x="688" y="516">生産計画</text><text x="688" y="520">データ</text><rect x="663" y="514" width="8" height="4" class="tg"/></g>
<g id="r-11"><rect x="680" y="530" width="30" height="10" rx="5" class="w"/><text x="685" y="536.3">取引先(店)</text><rect x="718" y="530" width="32" height="10" rx="5" class="w"/><text x="724" y="536.3">取引先(店)</text>
<rect x="652" y="540" width="20" height="5" class="c"/><text x="653" y="543.8">POSデータ</text>
<rect x="655" y="548" width="36" height="21" rx="3" class="w"/><text x="657" y="553">(3)店舗販売管理</text><text x="657" y="557.5">(POS)</text><text x="657" y="562">(POSデータ)</text><use href="#pc" x="684" y="558" width="7" height="7"/>
<use href="#pc" x="702" y="546" width="7" height="7"/><rect x="700" y="555" width="12" height="5" class="y"/><text x="701" y="558.6">本部</text>
<rect x="712" y="544" width="23" height="6" class="c"/><text x="713" y="548">POSデータ</text>
<rect x="730" y="548" width="38" height="21" rx="3" class="w"/><text x="732" y="553">(3)店舗管理</text><text x="732" y="557.5">(POS)</text></g>
<g id="r-12"><rect x="585" y="500" width="62" height="69" rx="4" class="ok"/><use href="#tri" x="586" y="568"/><text x="588" y="505">(3)原価計算システム</text><text x="588" y="509.5">[Dress Ward]</text>
<rect x="590" y="513" width="52" height="14" class="in"/><text x="592" y="518">(3)原価管理</text><text x="592" y="522.5">・原価計算</text>
<rect x="590" y="532" width="52" height="30" class="in"/><text x="592" y="537">(3)原価システム</text><text x="592" y="541.5">・製品原価</text><text x="592" y="546">・配賦計算</text><text x="592" y="550.5">・原価データ</text>
<rect x="637" y="505" width="28" height="25" class="c"/><text x="639" y="510">原価データ</text><text x="639" y="515">(入出庫)</text><text x="639" y="520">・材料費</text><text x="639" y="525">・労務費</text></g>

<!-- support zone -->
<g id="s-frame"><rect x="112" y="391" width="496" height="97" class="fr"/><text x="114" y="396.5">(3)業務支援</text></g>
<g id="s-1"><rect x="118" y="400" width="54" height="12" class="wk"/><text x="122" y="407">マスター管理</text><circle cx="180" cy="404" r="2.5" class="yc"/><rect x="185" y="401" width="20" height="5" class="y"/><text x="186" y="404.6">(2)他部署への</text></g>
<g id="s-2"><rect x="117" y="430" width="33" height="18" class="ok"/><use href="#tri" x="118" y="447"/><text x="119" y="435">Excelデータ</text><text x="119" y="439.5">(2)業務データ</text><text x="119" y="444">(1)集計</text>
<rect x="160" y="426" width="30" height="23" class="ok"/><use href="#tri" x="161" y="448"/><text x="162" y="431">(2)在庫報告</text>
<rect x="200" y="426" width="25" height="23" class="ok"/><use href="#tri" x="201" y="448"/><text x="202" y="431">(3)実績入力</text><text x="202" y="435.5">・実績データ</text></g>
<g id="s-3">
<rect x="237" y="400" width="31" height="18" class="w"/><text x="239" y="405">(3)在庫台帳</text><text x="239" y="409.5">・在庫管理</text><text x="239" y="414">・在庫照会</text>
<rect x="270" y="400" width="30" height="18" class="w"/><text x="272" y="405">(3)販売統計管理</text>
<rect x="304" y="400" width="31" height="18" class="lo"/><use href="#tri" x="304.5" y="417.5"/><text x="306" y="405">(3)物流計画</text>
<rect x="238" y="427" width="25" height="21" class="o"/><use href="#tri" x="238.5" y="447.5"/><text x="240" y="432">(3)販売の</text><text x="240" y="436.5">集計管理</text>
<rect x="272" y="427" width="30" height="21" class="w"/><text x="274" y="432">(3)販売ロジック</text><text x="274" y="436.5">販売実績データ</text>
<rect x="305" y="427" width="31" height="21" class="lo"/><use href="#tri" x="305.5" y="447.5"/><text x="307" y="432">(3)コスト管理</text><circle cx="327" cy="441" r="2.2" class="w"/>
<rect x="337" y="427" width="30" height="21" class="lo"/><use href="#tri" x="337.5" y="447.5"/><text x="339" y="432">(3)品質管理</text><text x="339" y="436.5">・品質データ</text>
<rect x="372" y="398" width="40" height="52" class="lo"/><use href="#tri" x="372.5" y="449.5"/><text x="374" y="403">(3)出荷管理</text><text x="374" y="407.5">・出荷データ</text><text x="374" y="412">・出荷実績の集計</text><text x="374" y="416.5">・データ連携</text><text x="374" y="421">・出荷一覧</text><text x="374" y="430" fill="#e00000">(3)出荷データ</text><text x="374" y="434.5" fill="#e00000">(プロジェクト)</text></g>
<g id="s-4">
<rect x="415" y="427" width="30" height="23" class="o"/><use href="#tri" x="415.5" y="449.5"/><text x="417" y="432">(3)原価</text><text x="417" y="436.5">・原価データ</text><circle cx="440" cy="443" r="2.2" class="w"/>
<rect x="448" y="427" width="30" height="23" class="lo"/><use href="#tri" x="448.5" y="449.5"/><text x="450" y="432">(3)品質データ</text><text x="450" y="436.5">・品質管理</text>
<rect x="463" y="400" width="37" height="22" class="lo"/><use href="#tri" x="463.5" y="421.5"/><text x="465" y="405">(3)生産管理システム</text><text x="465" y="409.5">(生産計画)</text>
<rect x="510" y="395" width="35" height="19" class="w"/><text x="512" y="400">(3)物流管理</text><text x="512" y="404.5">・物流データ</text><text x="512" y="409">・倉庫</text>
<rect x="513" y="415" width="7" height="10" class="c"/>
<rect x="510" y="427" width="35" height="23" class="lo"/><use href="#tri" x="510.5" y="449.5"/><text x="512" y="432">(3)物流データ</text><text x="512" y="436.5">・入出荷の管理</text>
<rect x="547" y="427" width="28" height="23" class="w"/><text x="549" y="432">(3)販売管理</text><text x="549" y="436.5">・販売データ</text>
<rect x="583" y="426" width="32" height="24" class="od"/><text x="585" y="431">(3)物流</text><text x="585" y="435.5">(管理)</text></g>
<g id="s-lbl">
<rect x="210" y="452" width="15" height="9" class="c"/><rect x="238" y="452" width="14" height="9" class="c"/><rect x="255" y="452" width="15" height="9" class="c"/><rect x="285" y="452" width="15" height="9" class="c"/><rect x="318" y="452" width="14" height="9" class="c"/><rect x="335" y="452" width="15" height="9" class="c"/><rect x="352" y="452" width="15" height="9" class="c"/><rect x="372" y="452" width="25" height="14" class="c"/><rect x="400" y="452" width="10" height="9" class="c"/><rect x="420" y="452" width="25" height="22" class="c"/><rect x="450" y="452" width="15" height="9" class="c"/><rect x="466" y="452" width="16" height="9" class="c"/><rect x="485" y="452" width="15" height="9" class="c"/><rect x="508" y="452" width="17" height="9" class="c"/><rect x="530" y="452" width="15" height="9" class="c"/><rect x="556" y="452" width="17" height="9" class="c"/><rect x="578" y="452" width="20" height="9" class="c"/>
<text x="211" y="456">出荷</text><text x="239" y="456">在庫</text><text x="256" y="456">入荷</text><text x="286" y="456">販売</text><text x="319" y="456">品質</text><text x="336" y="456">原価</text><text x="353" y="456">物流</text><text x="373" y="456">出荷データ</text><text x="421" y="456">原価データ</text><text x="451" y="456">品質</text><text x="467" y="456">生産</text><text x="486" y="456">計画</text><text x="509" y="456">物流</text><text x="531" y="456">在庫</text><text x="557" y="456">販売</text><text x="579" y="456">実績</text></g>
<g id="bus"><rect x="120" y="465" width="488" height="14" class="o"/><rect x="121" y="469" width="20" height="5" class="y"/><text x="122" y="472.6">入出荷データ</text><circle cx="165" cy="471.5" r="2.5" class="yc"/><rect x="169" y="469" width="30" height="5" class="y"/><text x="170" y="472.6">販売実績データ(共有)</text>
<use href="#db" x="480" y="472" width="14" height="13"/><text x="482" y="480.5">共有DB</text></g>

<!-- bottom left -->
<g id="b-1"><rect x="12" y="388" width="43" height="24" class="o"/><use href="#tri" x="12.5" y="411.5"/><text x="14" y="393">(3)POS物流</text><text x="14" y="397.5">(POS)データ入力</text><text x="14" y="402">・データ(Excel)</text><text x="14" y="406.5">・出荷数量の集計</text><use href="#pc" x="19" y="409" width="7" height="7"/></g>
<g id="b-2"><rect x="62" y="387" width="38" height="25" rx="3" class="lo"/><text x="64" y="392">(3)物流(SP-Access)</text><text x="64" y="396.5">[Windows Server]</text><rect x="72" y="399" width="26" height="8" class="wk"/><text x="75" y="404.3">マスター管理</text><circle cx="65" cy="409" r="2" class="w"/></g>
<g id="b-grp1"><ellipse cx="57" cy="440" rx="46" ry="24" class="fr"/>
<rect x="40" y="418" width="30" height="16" rx="2" class="o"/><rect x="58" y="418" width="40" height="18" rx="2" class="o"/><text x="60" y="423">(1)出荷管理(入力)</text><text x="60" y="427.5">(MS-Excel)</text>
<rect x="33" y="426" width="29" height="16" rx="2" class="o"/><rect x="50" y="434" width="40" height="17" rx="2" class="o"/><text x="52" y="439">(1)出荷管理(出荷)</text><text x="52" y="443.5">・出荷データ</text>
<rect x="25" y="434" width="30" height="17" rx="2" class="o"/><text x="27" y="439">(1)倉庫</text><text x="27" y="443.5">(物流)</text><use href="#pc" x="14" y="437" width="7" height="7"/>
<rect x="17" y="453" width="13" height="17" rx="2" class="lo"/><rect x="30" y="453" width="13" height="17" rx="2" class="lo"/><rect x="43" y="453" width="13" height="17" rx="2" class="lo"/><rect x="56" y="453" width="13" height="17" rx="2" class="lo"/><rect x="69" y="453" width="30" height="17" rx="2" class="lo"/>
<text x="18" y="458">出荷</text><text x="31" y="458">入荷</text><text x="44" y="458">在庫</text><text x="57" y="458">移動</text><text x="70" y="458">(3)ISMS連携</text><text x="70" y="462.5">・物流データ</text></g>
<g id="b-grp2"><ellipse cx="63" cy="503" rx="48" ry="30" class="fr"/>
<rect x="37" y="477" width="21" height="17" rx="2" class="o"/><text x="39" y="482">(3)物流</text>
<rect x="58" y="477" width="20" height="17" rx="2" class="o"/><text x="60" y="482">(3)物流</text><text x="60" y="486.5">Excel</text>
<rect x="73" y="476" width="30" height="18" rx="2" class="o"/><text x="75" y="481">(3)見積管理</text><text x="75" y="485.5">(MS-Excel)</text>
<use href="#pc" x="20" y="480" width="7" height="7"/>
<rect x="18" y="497" width="19" height="22" rx="2" class="lo"/><text x="20" y="502">(3)物流</text><text x="20" y="506.5">計画</text>
<rect x="38" y="495" width="19" height="25" rx="2" class="lo"/><text x="40" y="500">(3)配送</text>
<rect x="57" y="495" width="28" height="18" rx="2" class="lo"/><text x="59" y="500">(3)出荷品番</text><text x="59" y="504.5">システム</text>
<rect x="83" y="490" width="30" height="20" rx="2" class="lo"/><text x="85" y="495">(3)出荷情報</text><text x="85" y="499.5">システム</text>
<rect x="57" y="512" width="18" height="13" rx="2" class="lo"/><text x="59" y="517">(3)配車</text>
<rect x="73" y="512" width="28" height="13" rx="2" class="lo"/><text x="75" y="517">(3)帳票管理</text>
<rect x="101" y="509" width="48" height="16" rx="2" class="lo"/><use href="#tri" x="101.5" y="524.5"/><text x="103" y="514">BIG-Access</text><text x="103" y="518.5">(入力)の業務</text><text x="103" y="523">・生産と販売の管理</text></g>
<g id="b-lbl"><rect x="112" y="493" width="28" height="7" class="c"/><text x="114" y="497.5">Web(製品)</text><rect x="140" y="497" width="8" height="4" class="tg"/>
<rect x="68" y="533" width="57" height="5" class="c"/><text x="70" y="536.8">製品管理(出荷)・物流費の連携</text><rect x="123" y="534" width="8" height="4" class="tg"/>
<rect x="50" y="540" width="30" height="8" class="c"/><text x="52" y="543.5">ヘッダーデータ</text><text x="52" y="547">(明細データ)</text>
<rect x="28" y="548" width="45" height="21" rx="3" class="lo"/><use href="#tri" x="28.5" y="568.5"/><text x="30" y="553">(3)レポートサーバ</text><text x="30" y="557.5">[Windows Server]</text><text x="30" y="562">・レポート作成</text>
<rect x="73" y="560" width="42" height="9" class="c"/><text x="75" y="564">帳票データ(出荷)</text><rect x="106" y="553" width="8" height="4" class="tg"/></g>

<!-- bottom middle -->
<g id="m-1"><rect x="188" y="509" width="25" height="18" class="o"/><use href="#tri" x="188.5" y="526.5"/><text x="190" y="514">(3)物流</text><text x="190" y="518.5">(出荷)</text>
<use href="#pc" x="245" y="499" width="7" height="7"/><rect x="258" y="500" width="8" height="5" class="w"/><rect x="248" y="510" width="12" height="10" class="c"/><text x="249" y="514">出荷</text><text x="249" y="518">数量</text>
<rect x="265" y="510" width="33" height="15" rx="2" class="lo"/><use href="#tri" x="265.5" y="524.5"/><text x="267" y="515">(3)仕入管理</text><text x="267" y="519.5">(発注)</text>
<rect x="300" y="510" width="10" height="10" class="c"/></g>
<g id="m-2"><rect x="310" y="500" width="83" height="35" rx="4" class="ok"/><use href="#tri" x="311" y="534"/><text x="313" y="505">[Windows Server]</text>
<rect x="314" y="508" width="34" height="22" class="in"/><text x="316" y="513">(3)物流管理</text><text x="316" y="517.5">(入出荷業務)</text>
<rect x="353" y="508" width="37" height="22" class="in"/><text x="355" y="513">(3)販売管理</text><rect x="357" y="516" width="28" height="6" class="wk"/><text x="359" y="520.2">マスター管理</text><use href="#db" x="377" y="525" width="7" height="5"/><use href="#db" x="384" y="525" width="7" height="5"/></g>
<g id="m-3"><rect x="228" y="527" width="25" height="15" rx="4" class="w"/><text x="230" y="532">取引先</text><text x="230" y="536.5">(物流)</text>
<rect x="255" y="540" width="28" height="29" rx="3" class="w"/><text x="257" y="545">(3)データ</text><path d="M255 540L283 569M283 540L255 569" class="ln"/>
<rect x="283" y="533" width="7" height="4" class="tg"/>
<rect x="285" y="540" width="45" height="5" class="c" stroke="#c03080" stroke-width=".4"/><text x="287" y="543.8">データ連携(プロジェクト)</text>
<rect x="286" y="550" width="14" height="6" class="c"/><text x="287" y="554">連携</text>
<rect x="338" y="536" width="62" height="9" class="c"/><text x="340" y="540">出荷データ(販売)・販売データ</text>
<rect x="310" y="548" width="36" height="21" class="o"/><use href="#tri" x="310.5" y="568.5"/><text x="312" y="553">(3)出荷管理</text><text x="312" y="557.5">・出荷データ</text>
<rect x="352" y="548" width="38" height="21" class="o"/><use href="#tri" x="352.5" y="568.5"/><text x="354" y="553">(3)販売管理</text><text x="354" y="557.5">・販売データ</text></g>
<g id="m-4"><use href="#pc" x="398" y="524" width="7" height="7"/><rect x="408" y="523" width="10" height="10" class="y"/><text x="409" y="527.5">本部</text>
<rect x="405" y="495" width="23" height="8" class="c"/><text x="407" y="500">出荷データ</text>
<rect x="430" y="540" width="18" height="5" class="c"/><rect x="425" y="545" width="15" height="5" class="c"/>
<rect x="400" y="548" width="37" height="21" rx="3" class="lo"/><use href="#tri" x="400.5" y="568.5"/><text x="402" y="553">(3)物流管理システム</text><text x="402" y="557.5">(ISMS)</text>
<rect x="445" y="548" width="52" height="21" rx="3" class="o"/><use href="#tri" x="445.5" y="568.5"/><text x="447" y="553">(3)販売実績管理システム</text><text x="447" y="557.5">・販売データの集計</text><text x="447" y="562">・実績データ</text>
<rect x="505" y="548" width="80" height="21" rx="3" class="lo"/><use href="#tri" x="505.5" y="568.5"/><text x="507" y="553">(3)物流情報管理システム</text><text x="507" y="557.5">「ソフト・アプリケーション」</text><rect x="540" y="560" width="30" height="8" class="w"/></g>
<g id="m-5"><rect x="445" y="500" width="125" height="40" rx="4" class="ok"/><use href="#tri" x="446" y="539"/><text x="448" y="505">(3)販売物流システム「(ストア・Windows Server)」</text>
<rect x="448" y="509" width="70" height="20" class="in"/><text x="450" y="514">出荷管理システム</text><text x="450" y="518.5">・出荷データの取込み(一括)</text><text x="450" y="523">・出荷伝票の作成と発行</text><text x="450" y="527.5">・在庫データ</text>
<rect x="523" y="509" width="42" height="15" class="in"/><text x="525" y="514">(3)出荷管理</text><text x="525" y="518.5">・出荷データ</text>
<use href="#db" x="473" y="529" width="14" height="8"/><use href="#db" x="489" y="529" width="14" height="8"/><rect x="503" y="531" width="8" height="4" class="tg"/>
<rect x="558" y="525" width="40" height="30" rx="3" class="c"/><text x="560" y="530">出荷管理情報</text><text x="560" y="535">・出荷入力</text><text x="560" y="540">・出荷データ</text><text x="560" y="545">・入出庫</text><text x="560" y="550">・在庫</text></g>
<g id="m-6"><rect x="488" y="486" width="24" height="6" class="c"/><text x="490" y="490">物流管理</text>
<rect x="528" y="483" width="70" height="15" rx="3" class="c"/><text x="530" y="487.5">・ソフトウェア(クラウド)</text><text x="530" y="491.5">・データ連携(取引先)</text><text x="530" y="495.5">・販売データ(集計)の管理</text></g>

<!-- connectors -->
<g id="connectors">
<path class="ln" d="M80 90V112M95 90V112M110 90V112M143 90V112M195 90V104"/>
<path class="ln" d="M75 118V180M90 118V127M104 118V127M118 118V194M148 118V194M160 118V194M170 120V194"/>
<path class="lk" d="M132 118V200M155 122V200"/>
<path class="ln" d="M100 130H90M113 132H124M113 141H124M125 142H124M113 151H124"/>
<path class="ln" d="M110 172V190M100 183H330M100 186H598M100 189H598M100 192H598"/>
<rect x="100" y="181" width="230" height="5" class="c"/><text x="102" y="184.8">在庫移動・物流部署(入出庫)・受払い(物流)・在庫管理・出荷指示・受注データ・販売データ・物流費(入出荷)</text>
<path class="ln" d="M231 46V53M268 46V52M298 46V52M231 80V95M268 75V84M298 80V84M231 125V135M268 125V128M320 79H343M327 72V84M345 72V79"/>
<path class="ln" d="M376 97V98M395 135V194M383 135V194M245 110H253M318 104H353M350 115V98"/>
<path class="ln" d="M281 172V194M300 165V194M320 166V194M340 166V194M365 178V194"/>
<path class="ln" d="M418 138V145M430 138V145M476 138V145M490 138V145M510 128V145M545 138V145M560 138V145M585 129V145M456 140V145M592 140V145"/>
<path class="ln" d="M520 28V20H560M520 77V84M511 77V84"/>
<path class="ln" d="M430 167V194M455 167V194M510 166V194M570 166V194M588 170V194M420 167V194M440 167V194"/>
<path class="ln" d="M615 19H630M682 30H698M722 23H735M692 45V50M700 50H735" marker-end="url(#ar)"/>
<path class="ld" d="M700 70H720V110H735M697 82H712V150H735M707 128H720V160"/>
<path class="ln" d="M600 66V145M612 112V145M625 118V145M650 110V143M688 137V162M645 175H670M623 160H640"/>
<path class="ln" d="M730 132H735M730 155H735M605 46V50M705 200H737M705 216H737M760 232V205"/>
<path class="ln" d="M598 230H603M655 240H670M660 272H670M660 300H677M655 345H680M655 360H670M660 380H670"/>
<path class="ln" d="M718 375H740V392M718 384H735M760 412V425M730 405H740M652 400H670M710 407H722"/>
<path class="ln" d="M653 467H783M690 467V488M738 467V488M783 467V488M674 470V480M668 467V515M670 518H686M706 518H715"/>
<path class="ln" d="M695 506V530M735 522V530M673 540V548M708 540V546M750 540V548M615 478V500M637 470H618M608 455H615"/>
<path class="ln" d="M600 400H618M652 405V440M615 440H670"/>
<path class="ln" d="M160 253V263M135 253V263M148 268V275M200 252V274M230 252V274M290 252V274M130 305V322M160 305V322M210 305V322M240 305V322M290 297V322"/>
<path class="lk" d="M107 258H525M113 318H330M240 310H322"/>
<path class="ln" d="M320 265H330M305 240H320M348 232V245M390 228V245M420 228V245M460 235V245M495 235V245"/>
<path class="ln" d="M400 310V322M430 310V322M470 310V322M512 318V352M500 338H505"/>
<path class="ln" d="M520 250H530M520 285H530M593 220H603M650 320H660"/>
<path class="ln" d="M130 365V400M175 365V391M200 365V426M250 380V400M295 387V400M340 387V427M360 387V427M385 387V398M430 386V427M470 386V400M520 386V395M560 345V427M600 345V426M640 345V391M395 365V369"/>
<path class="ln" d="M134 448V465M175 449V465M212 449V465M218 461V465M245 461V465M262 461V465M292 461V465M325 461V465M342 461V465M360 461V465M405 461V465M430 474V465M458 461V465M474 461V465M492 461V465M516 461V465M538 461V465M564 461V465M588 461V465"/>
<path class="ln" d="M252 418V452M285 418V452M320 418V452M252 448V452M287 448V452M320 448V452M352 448V452M385 450V452M430 450V452M463 450V452M481 422V452M527 414V427M527 450V452M561 450V452M598 450V452"/>
<path class="ln" d="M110 483H608M110 487H608"/>
<rect x="222" y="482" width="8" height="5" class="tg"/><rect x="327" y="482" width="8" height="5" class="tg"/><rect x="366" y="482" width="8" height="5" class="tg"/><rect x="410" y="488" width="8" height="4" class="tg"/>
<path class="ln" d="M225 487V500M330 487V500M370 487V500M405 487V499M487 485V500M520 498V500M415 503V523"/>
<path class="lk" d="M393 513H445M100 457H130M155 470V493"/>
<path class="ln" d="M213 518H248M260 515H265M298 515H310M253 534H283M290 537H338M330 540H338M330 545V548M370 545V548M420 533V548M470 540V548M540 540V548M575 555V560"/>
<path class="ln" d="M100 400H112M100 470H120M150 500V509M125 525V533M95 538V548M73 553H106M50 530V540M148 497H155V480"/>
<path class="ln" d="M55 400H62M37 412V418M80 412V418M57 464V477"/>
<path class="ln" d="M58 237H65M58 255H65M58 269H65M58 280H65M48 295H65M48 303H65M48 311H65M48 323H65M48 334H65M48 341H65M48 350H65M48 361H65M48 370H65M100 220H107M100 240H107M100 300H107M100 325H113M100 345H113M100 380H107"/>
<rect x="47" y="289" width="26" height="4" class="c"/><rect x="47" y="300" width="30" height="5" class="c"/><rect x="40" y="316" width="40" height="5" class="c"/><rect x="45" y="330" width="28" height="4" class="c"/><rect x="45" y="367" width="28" height="5" class="c"/>
<text x="48" y="292">出荷データ</text><text x="48" y="304">受注データ</text><text x="41" y="320">データ入力(販売)</text><text x="46" y="333">取引先</text><text x="46" y="371">出荷一覧</text>
<rect x="90" y="214" width="10" height="5" class="tg"/><rect x="90" y="226" width="10" height="5" class="tg"/><rect x="100" y="322" width="8" height="5" class="tg"/><rect x="100" y="333" width="8" height="5" class="tg"/>
</g>
</svg>
